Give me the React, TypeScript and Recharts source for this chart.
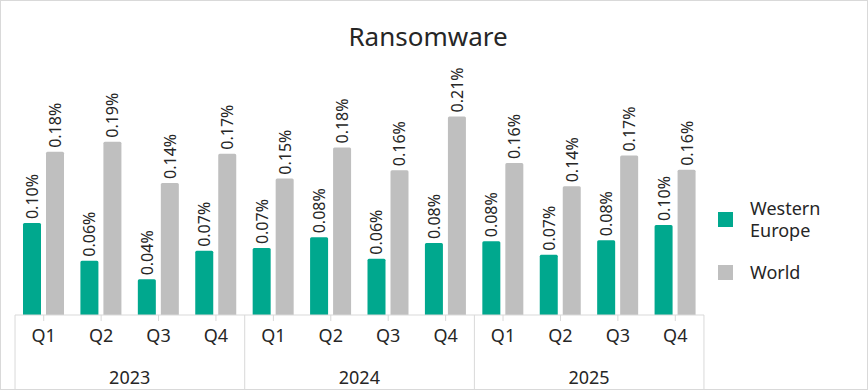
import { BarChart, Bar, XAxis, YAxis, LabelList } from "recharts"

const quarters = ["Q1", "Q2", "Q3", "Q4", "Q1", "Q2", "Q3", "Q4", "Q1", "Q2", "Q3", "Q4"]
const years = ["2023", "2023", "2023", "2023", "2024", "2024", "2024", "2024", "2025", "2025", "2025", "2025"]
const westernEurope = [0.0995, 0.0588, 0.0386, 0.0694, 0.0724, 0.0841, 0.061, 0.0779, 0.0798, 0.0652, 0.081, 0.0973]
const world = [0.1766, 0.1875, 0.1429, 0.1746, 0.1476, 0.1813, 0.1567, 0.2149, 0.1645, 0.1393, 0.1726, 0.1571]
const seriesNames = ["Western Europe", "World"]

const TEAL = "#00A88E"
const GREY = "#BFBFBF"
const TEXT = "#262626"
const LINE = "#D9D9D9"
const FONT = "'Noto Sans', sans-serif"

const data = quarters.map((q, i) => ({
  q,
  year: years[i],
  we: westernEurope[i],
  world: world[i],
}))

const BAND = 688 / quarters.length

function RotatedLabel(props: any) {
  const { x, y, width, value } = props
  const cx = x + width / 2
  const top = y - 4
  return (
    <text
      x={cx}
      y={top}
      transform={`rotate(-90 ${cx} ${top})`}
      textAnchor="start"
      dominantBaseline="central"
      fontSize={16}
      fontFamily={FONT}
      fill={TEXT}
    >
      {value.toFixed(2)}%
    </text>
  )
}

function CategoryTick(props: any) {
  const { x, y, index, payload } = props
  const groupStart = index % 4 === 0
  const last = index === quarters.length - 1
  return (
    <g>
      <line x1={x} y1={y - 8} x2={x} y2={y - 2} stroke={LINE} />
      <text x={x} y={y + 19} textAnchor="middle" fontSize={18} fontFamily={FONT} fill={TEXT}>
        {payload.value}
      </text>
      {groupStart && (
        <>
          <line x1={x - BAND / 2} y1={y - 8} x2={x - BAND / 2} y2={y + 68} stroke={LINE} />
          <text x={x + BAND * 1.5} y={y + 61} textAnchor="middle" fontSize={18} fontFamily={FONT} fill={TEXT}>
            {years[index]}
          </text>
        </>
      )}
      {last && <line x1={x + BAND / 2} y1={y - 8} x2={x + BAND / 2} y2={y + 68} stroke={LINE} />}
    </g>
  )
}

export default function App() {
  return (
    <div
      style={{
        position: "absolute",
        left: 0,
        top: 0,
        width: 866,
        height: 388,
        border: `1px solid ${LINE}`,
        background: "#fff",
        fontFamily: FONT,
      }}
    >
      <div
        style={{
          position: "absolute",
          left: 0,
          width: 854,
          top: 17,
          textAlign: "center",
          fontSize: 26,
          color: TEXT,
        }}
      >
        Ransomware
      </div>
      <div style={{ position: "absolute", left: 0, top: 0 }}>
        <BarChart
          width={866}
          height={388}
          data={data}
          margin={{ top: 83, right: 163, bottom: 4, left: 14 }}
          barSize={18}
          barGap={5}
        >
          <YAxis hide domain={[0, 0.25]} />
          <XAxis
            dataKey="q"
            interval={0}
            height={70}
            stroke={LINE}
            tickLine={false}
            tick={<CategoryTick />}
          />
          <Bar dataKey="we" name={seriesNames[0]} fill={TEAL} radius={[1.5, 1.5, 0, 0]} isAnimationActive={false}>
            <LabelList dataKey="we" content={<RotatedLabel />} />
          </Bar>
          <Bar dataKey="world" name={seriesNames[1]} fill={GREY} radius={[1.5, 1.5, 0, 0]} isAnimationActive={false}>
            <LabelList dataKey="world" content={<RotatedLabel />} />
          </Bar>
        </BarChart>
      </div>
      <div style={{ position: "absolute", left: 717, top: 196, color: TEXT, fontSize: 18 }}>
        <div style={{ display: "flex", alignItems: "center" }}>
          <div style={{ width: 15, height: 15, background: TEAL, marginRight: 17 }} />
          <div style={{ lineHeight: "22px", width: 90 }}>
            Western
            <br />
            Europe
          </div>
        </div>
        <div style={{ display: "flex", alignItems: "center", marginTop: 20 }}>
          <div style={{ width: 15, height: 15, background: GREY, marginRight: 17 }} />
          <div style={{ lineHeight: "22px" }}>{seriesNames[1]}</div>
        </div>
      </div>
    </div>
  )
}
